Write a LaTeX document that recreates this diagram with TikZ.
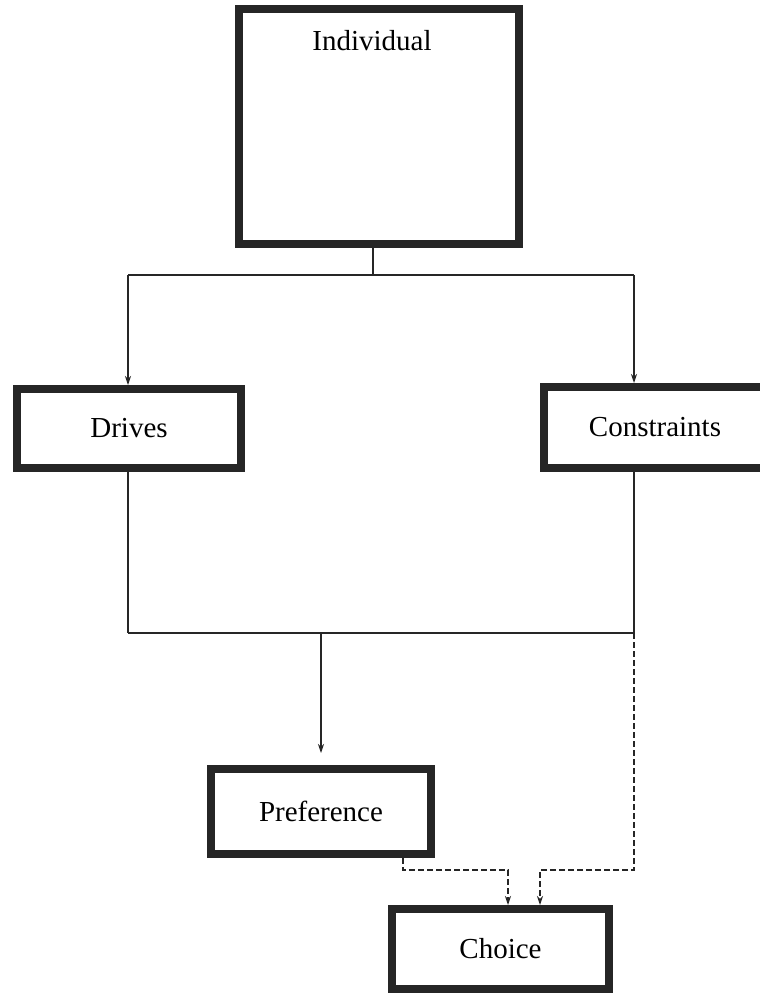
\documentclass[tikz,border=0pt]{standalone}
\usepackage{fontspec}
\setmainfont{Liberation Serif}
\usetikzlibrary{arrows.meta}
\begin{document}
\begin{tikzpicture}[x=1pt,y=-1pt,
  box/.style={draw=black!85,line width=8pt,fill=white,inner sep=0pt,rectangle,
    font=\fontsize{29}{33}\selectfont},
  lbl/.style={font=\fontsize{29}{33}\selectfont,inner sep=0pt},
  conn/.style={line width=1.1pt,draw=black!85},
  tip/.style={-{Stealth[length=9pt,width=6pt]}},
  dsh/.style={conn,dash pattern=on 6pt off 3pt}]
\useasboundingbox[fill=white] (0,0) rectangle (760,994);

% boxes
\node[box,minimum width=280pt,minimum height=235pt] (ind) at (379,126.5) {};
\node[lbl,anchor=base] (indtxt) at (372,50) {Individual};
\node[box,minimum width=224pt,minimum height=79pt] (drv) at (129,428.5) {Drives};
\node[box,minimum width=222pt,minimum height=81pt] (cons) at (655,427.5) {Constraints};
\node[box,minimum width=220pt,minimum height=85pt] (pref) at (321,811.5) {Preference};
\node[box,minimum width=217pt,minimum height=80pt] (cho) at (500.5,949) {Choice};

% junction points
\coordinate (top) at (373,275);
\coordinate (tl) at (128,275);
\coordinate (tr) at (634,275);
\coordinate (bl) at (128,633);
\coordinate (br) at (634,633);
\coordinate (bm) at (321,633);
\coordinate (dr) at (634,870);
\coordinate (c2) at (540,870);
\coordinate (p1) at (403,870);
\coordinate (c1) at (508,870);

% solid connectors
\draw[conn] (ind.south -| top) -- (top);
\draw[conn] (tl) -- (tr);
\draw[conn,tip] (tl) -- (tl |- drv.north);
\draw[conn,tip] (tr) -- (tr |- cons.north);
\draw[conn] (drv.south -| bl) -- (bl);
\draw[conn] (cons.south -| br) -- (br);
\draw[conn] (bl) -- (br);
\draw[conn,tip,shorten >=12pt] (bm) -- (bm |- pref.north);

% dashed connectors
\draw[dsh,tip] (br) -- (dr) -- (c2) -- (c2 |- cho.north);
\draw[dsh,tip] (pref.south -| p1) -- (p1) -- (c1) -- (c1 |- cho.north);
\end{tikzpicture}
\end{document}
